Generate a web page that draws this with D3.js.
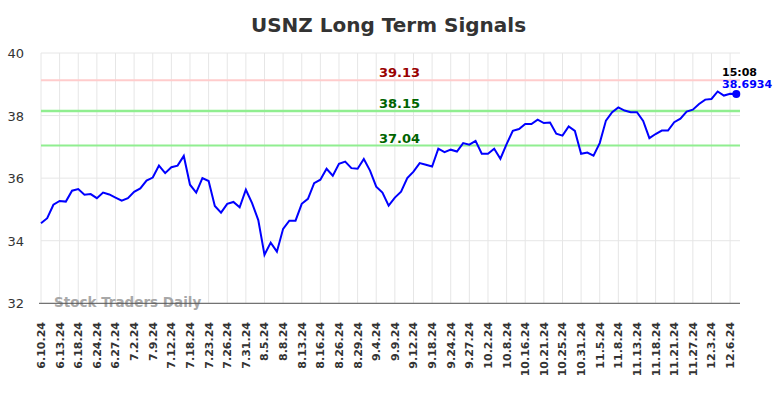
<!DOCTYPE html>
<html>
<head>
<meta charset="utf-8">
<script src="https://cdn.jsdelivr.net/npm/d3@7"></script>
<style>
  body { margin: 0; background: #fff; }
  text { font-family: "DejaVu Sans", sans-serif; }
</style>
</head>
<body>
<div class="chart"></div>
<script>
// tick labels, one for every third trading day
const tickLabels = ['6.10.24','6.13.24','6.18.24','6.24.24','6.27.24','7.2.24','7.9.24','7.12.24',
  '7.18.24','7.23.24','7.26.24','7.31.24','8.5.24','8.8.24','8.13.24','8.16.24','8.26.24','8.29.24',
  '9.4.24','9.9.24','9.12.24','9.18.24','9.24.24','9.27.24','10.2.24','10.8.24','10.16.24','10.21.24',
  '10.25.24','10.31.24','11.5.24','11.8.24','11.13.24','11.18.24','11.21.24','11.27.24','12.3.24','12.6.24'];

// closing prices
const prices = [34.56,34.72,35.15,35.27,35.25,35.60,35.65,35.47,35.49,35.36,
  35.54,35.48,35.38,35.28,35.36,35.56,35.67,35.92,36.02,36.40,
  36.16,36.35,36.40,36.71,35.79,35.54,36.00,35.91,35.11,34.90,
  35.18,35.24,35.07,35.63,35.20,34.66,33.55,33.94,33.65,34.38,
  34.64,34.64,35.18,35.34,35.84,35.95,36.30,36.08,36.46,36.53,
  36.32,36.30,36.61,36.24,35.73,35.54,35.12,35.38,35.57,36.00,
  36.21,36.48,36.43,36.37,36.94,36.83,36.91,36.85,37.12,37.07,
  37.19,36.78,36.78,36.94,36.62,37.09,37.51,37.57,37.73,37.73,
  37.87,37.76,37.78,37.42,37.36,37.65,37.51,36.78,36.82,36.72,
  37.12,37.84,38.11,38.26,38.16,38.11,38.11,37.83,37.28,37.41,
  37.52,37.52,37.79,37.90,38.13,38.19,38.37,38.51,38.53,38.77,
  38.64,38.70,38.6934];

// signal levels
const signalValues = [39.13, 38.15, 37.04];
const signalColors = ['#ffcccc', '#90ee90', '#90ee90'];
const signalTextColors = ['#990000', '#006400', '#006400'];
const yTicks = [32, 34, 36, 38, 40];
const lastTime = '15:08';

const W = 784, H = 398;
const plot = { left: 41, right: 740, top: 53, bottom: 303.3 };

const svg = d3.select('.chart').append('svg')
  .attr('width', W).attr('height', H);

const x = d3.scaleLinear()
  .domain([0, prices.length - 1])
  .range([plot.left, 736.3]);

const y = d3.scaleLinear()
  .domain([32, 40])
  .range([plot.bottom, plot.top]);

// title
svg.append('text')
  .attr('x', 388.5).attr('y', 32)
  .attr('text-anchor', 'middle')
  .style('font-size', '20px').style('font-weight', 'bold')
  .style('fill', '#333')
  .text('USNZ Long Term Signals');

// horizontal grid
svg.append('g').selectAll('line')
  .data(yTicks)
  .enter().append('line')
  .attr('x1', plot.left).attr('x2', plot.right)
  .attr('y1', d => y(d)).attr('y2', d => y(d))
  .style('stroke', '#e6e6e6').style('stroke-width', 1);

// vertical grid
svg.append('g').selectAll('line')
  .data(tickLabels)
  .enter().append('line')
  .attr('x1', (d, i) => x(i * 3)).attr('x2', (d, i) => x(i * 3))
  .attr('y1', plot.top).attr('y2', plot.bottom)
  .style('stroke', '#e6e6e6').style('stroke-width', 1);

// y labels
svg.append('g').selectAll('text')
  .data(yTicks)
  .enter().append('text')
  .attr('x', 24).attr('y', d => y(d) + 5)
  .attr('text-anchor', 'end')
  .style('font-size', '13px').style('fill', '#333')
  .text(d => d);

// x labels
svg.append('g').selectAll('text')
  .data(tickLabels)
  .enter().append('text')
  .attr('transform', (d, i) => `translate(${x(i * 3) + 4},322) rotate(-90)`)
  .attr('text-anchor', 'end')
  .style('font-size', '11px').style('font-weight', 'bold').style('fill', '#333')
  .text(d => d);

// watermark
svg.append('text')
  .attr('x', 54).attr('y', 307)
  .style('font-size', '13.5px').style('font-weight', 'bold')
  .style('fill', '#999').style('opacity', 0.85)
  .text('Stock Traders Daily');

// axis line
svg.append('line')
  .attr('x1', plot.left - 2).attr('x2', plot.right)
  .attr('y1', plot.bottom).attr('y2', plot.bottom)
  .style('stroke', '#555').style('stroke-width', 1);

// signal lines
svg.append('g').selectAll('line')
  .data(signalValues)
  .enter().append('line')
  .attr('x1', plot.left).attr('x2', plot.right)
  .attr('y1', d => y(d)).attr('y2', d => y(d))
  .style('stroke', (d, i) => signalColors[i])
  .style('stroke-width', (d, i) => i === 1 ? 2.5 : 2);

svg.append('g').selectAll('text')
  .data(signalValues)
  .enter().append('text')
  .attr('x', 399.5).attr('y', d => y(d) - 3)
  .attr('text-anchor', 'middle')
  .style('font-size', '13px').style('font-weight', 'bold')
  .style('fill', (d, i) => signalTextColors[i])
  .text(d => d.toFixed(2));

// price line
const line = d3.line()
  .x((d, i) => x(i))
  .y(d => y(d));

svg.append('path')
  .datum(prices)
  .attr('d', line)
  .style('fill', 'none')
  .style('stroke', '#0000ff')
  .style('stroke-width', 2);

const lastI = prices.length - 1;
svg.append('circle')
  .attr('cx', x(lastI)).attr('cy', y(prices[lastI]))
  .attr('r', 4)
  .style('fill', '#0000ff');

svg.append('text')
  .attr('x', 722).attr('y', 75.5)
  .style('font-size', '11px').style('font-weight', 'bold').style('fill', '#000')
  .text(lastTime);

svg.append('text')
  .attr('x', 722).attr('y', 88)
  .style('font-size', '11px').style('font-weight', 'bold').style('fill', '#0000ff')
  .text(prices[lastI]);
</script>
</body>
</html>
